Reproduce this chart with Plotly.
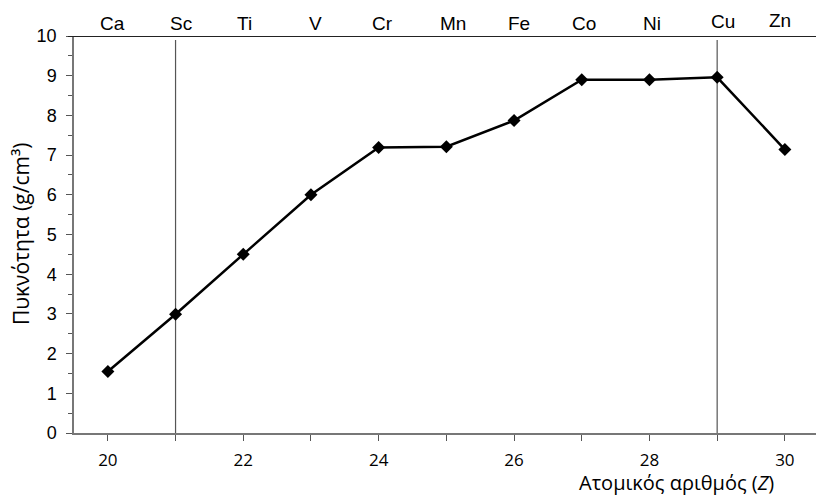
import plotly.graph_objects as go

elements = ["Ca", "Sc", "Ti", "V", "Cr", "Mn", "Fe", "Co", "Ni", "Cu", "Zn"]
atomic_numbers = [20, 21, 22, 23, 24, 25, 26, 27, 28, 29, 30]
density = [1.55, 2.99, 4.5, 6.0, 7.19, 7.21, 7.87, 8.9, 8.9, 8.96, 7.14]
label_shift = [5, 5, 1, 5, 4, 7, 5, 2, 3, 6, -5]
label_raise = [0, 0, 0, 0, 0, 0, 0, 0, 0, 2, 3]
marked_z = [21, 29]

x_ticks = list(range(20, 31))
x_ticktext = [str(v) if v % 2 == 0 else "" for v in x_ticks]

fig = go.Figure()
fig.add_trace(go.Scatter(
    x=atomic_numbers, y=density, mode="lines+markers",
    line=dict(color="black", width=2.5),
    marker=dict(symbol="diamond", size=10, color="black"),
    showlegend=False, cliponaxis=False,
))

shapes = []
for z in marked_z:
    shapes.append(dict(type="line", xref="x", yref="y", x0=z, x1=z, y0=-0.18, y1=9.9,
                       line=dict(color="#555555", width=1.2), layer="below"))
shapes.append(dict(type="line", xref="paper", yref="y", x0=-0.008, x1=1.0, y0=10, y1=10,
                   line=dict(color="#222222", width=1.8)))

annotations = []
for el, z, s, r in zip(elements, atomic_numbers, label_shift, label_raise):
    annotations.append(dict(x=z, y=10, xref="x", yref="y", text=el, showarrow=False,
                            xshift=s, yshift=13 + r, yanchor="middle",
                            font=dict(family="Liberation Sans, Arial", size=19, color="black")))
annotations.append(dict(x=0.812, y=-0.125, xref="paper", yref="paper",
                        text="Ατομικός αριθμός (<i>Z</i>)", showarrow=False,
                        yanchor="middle", xanchor="center",
                        font=dict(family="Open Sans, Noto Sans", size=20, color="black")))
annotations.append(dict(x=-0.072, y=0.5, xref="paper", yref="paper",
                        text="Πυκνότητα (g/cm³)", showarrow=False, textangle=-90,
                        xanchor="center", yanchor="middle",
                        font=dict(family="Open Sans, Noto Sans", size=21, color="black")))

fig.update_layout(
    width=816, height=500,
    margin=dict(l=74, r=0, t=36, b=67),
    paper_bgcolor="white", plot_bgcolor="white",
    shapes=shapes, annotations=annotations,
    xaxis=dict(range=[19.5, 30.46], tickvals=x_ticks, ticktext=x_ticktext,
               ticks="outside", ticklen=6, tickcolor="#555555", tickwidth=1.2,
               showline=True, linecolor="#777777", linewidth=1.5,
               showgrid=False, zeroline=False, ticklabelstandoff=5,
               tickfont=dict(family="Open Sans, Noto Sans", size=17, color="black")),
    yaxis=dict(range=[0, 10], dtick=1, tick0=0,
               ticks="outside", ticklen=6, tickcolor="#555555", tickwidth=1.2,
               minor=dict(dtick=0.5, ticks="outside", ticklen=4, tickcolor="#555555", tickwidth=1),
               showline=True, linecolor="#777777", linewidth=1.5,
               showgrid=False, zeroline=False, ticklabelstandoff=6,
               tickfont=dict(family="Liberation Sans, Arial", size=18, color="black")),
)

fig.write_html("out.html")
